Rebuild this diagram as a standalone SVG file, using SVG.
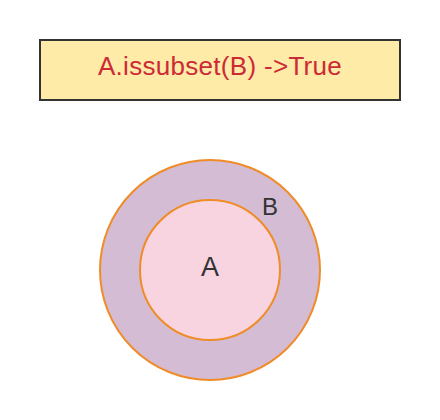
<svg xmlns="http://www.w3.org/2000/svg" width="440" height="420" viewBox="0 0 440 420">
<style>
.lbl{font-family:"Liberation Sans",Arial,sans-serif;fill:#333333;text-anchor:middle}
.set{stroke:#F08C28;stroke-width:2}
</style>
<rect width="440" height="420" fill="#ffffff"/>
<g id="title">
<rect x="40" y="40" width="360" height="60" fill="#FFEBA8" stroke="#333333" stroke-width="2"/>
<text x="220" y="75" font-family="'Liberation Sans',Arial,sans-serif" font-size="26" letter-spacing="0.3" fill="#CC2A36" text-anchor="middle">A.issubset(B) -&gt;True</text>
</g>
<g id="setB">
<circle class="set" cx="210" cy="270" r="110" fill="#D4BCD4"/>
<text class="lbl" x="270" y="215" font-size="24">B</text>
</g>
<g id="setA">
<circle class="set" cx="210" cy="270" r="70" fill="#F8D4E0"/>
<text class="lbl" x="210" y="276" font-size="27">A</text>
</g>
<g id="connectors"/>
</svg>
